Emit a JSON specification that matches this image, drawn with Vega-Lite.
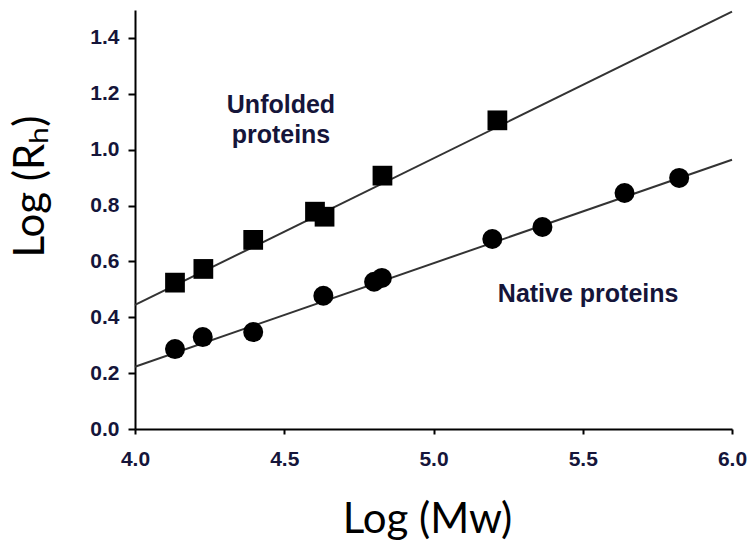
{
  "$schema": "https://vega.github.io/schema/vega-lite/v6.json",
  "width": 597,
  "height": 419,
  "autosize": {"type": "none"},
  "padding": {"left": 135, "top": 10, "right": 19, "bottom": 116},
  "background": "white",
  "config": {
    "view": {"stroke": null},
    "axis": {
      "grid": false,
      "domainColor": "#000000",
      "domainWidth": 2,
      "tickColor": "#000000",
      "tickWidth": 2,
      "labelFont": "Liberation Sans",
      "labelFontWeight": "bold",
      "labelFontSize": 21,
      "labelColor": "#15153a",
      "titleFont": "Lato",
      "titleFontWeight": "normal",
      "titleFontSize": 42,
      "titleColor": "#000000"
    }
  },
  "encoding": {
    "x": {
      "field": "logMw", "type": "quantitative",
      "scale": {"domain": [4, 6], "nice": false, "zero": false},
      "axis": {
        "title": "Log (Mw)",
        "titleX": 292,
        "titleY": 103,
        "titleBaseline": "alphabetic",
        "values": [4.0, 4.5, 5.0, 5.5, 6.0],
        "format": ".1f",
        "labelFlush": false,
        "labelOverlap": false,
        "tickSize": 5,
        "labelBaseline": "alphabetic",
        "labelPadding": 31
      }
    },
    "y": {
      "field": "logRh", "type": "quantitative",
      "scale": {"domain": [0, 1.5], "nice": false},
      "axis": {
        "title": "Log (Rₕ)",
        "titleX": -92,
        "titleY": 176,
        "titleBaseline": "alphabetic",
        "values": [0, 0.2, 0.4, 0.6, 0.8, 1.0, 1.2, 1.4],
        "format": ".1f",
        "tickSize": 7,
        "labelPadding": 9,
        "labelFlush": false
      }
    }
  },
  "layer": [
    {
      "data": {"values": [
        {"logMw": 4.1}, {"logMw": 4.2}, {"logMw": 4.3}, {"logMw": 4.4},
        {"logMw": 4.6}, {"logMw": 4.7}, {"logMw": 4.8}, {"logMw": 4.9},
        {"logMw": 5.1}, {"logMw": 5.2}, {"logMw": 5.3}, {"logMw": 5.4},
        {"logMw": 5.6}, {"logMw": 5.7}, {"logMw": 5.8}, {"logMw": 5.9}
      ]},
      "mark": {"type": "rule", "color": "#000000", "strokeWidth": 2},
      "encoding": {
        "y": {"datum": 0, "type": "quantitative"},
        "y2": {"datum": -0.017}
      }
    },
    {
      "data": {"values": [
        {"series": "Unfolded", "logMw": 4.0, "logRh": 0.444},
        {"series": "Unfolded", "logMw": 6.0, "logRh": 1.494},
        {"series": "Native", "logMw": 4.0, "logRh": 0.223},
        {"series": "Native", "logMw": 6.0, "logRh": 0.964}
      ]},
      "mark": {"type": "line", "color": "#333333", "strokeWidth": 2},
      "encoding": {
        "detail": {"field": "series"}
      }
    },
    {
      "data": {"values": [
        {"logMw": 4.134, "logRh": 0.524},
        {"logMw": 4.229, "logRh": 0.573},
        {"logMw": 4.396, "logRh": 0.677},
        {"logMw": 4.603, "logRh": 0.778},
        {"logMw": 4.635, "logRh": 0.760},
        {"logMw": 4.829, "logRh": 0.907},
        {"logMw": 5.214, "logRh": 1.105}
      ]},
      "mark": {"type": "point", "shape": "square", "filled": true, "color": "#000000", "opacity": 1, "size": 390}
    },
    {
      "data": {"values": [
        {"logMw": 4.134, "logRh": 0.286},
        {"logMw": 4.227, "logRh": 0.329},
        {"logMw": 4.396, "logRh": 0.347},
        {"logMw": 4.631, "logRh": 0.477},
        {"logMw": 4.801, "logRh": 0.527},
        {"logMw": 4.827, "logRh": 0.541},
        {"logMw": 5.197, "logRh": 0.680},
        {"logMw": 5.365, "logRh": 0.723},
        {"logMw": 5.640, "logRh": 0.845},
        {"logMw": 5.823, "logRh": 0.899}
      ]},
      "mark": {"type": "point", "shape": "circle", "filled": true, "color": "#000000", "opacity": 1, "size": 400}
    },
    {
      "data": {"values": [
        {"label": "Unfolded", "logMw": 4.489, "logRh": 1.133},
        {"label": "proteins", "logMw": 4.489, "logRh": 1.025},
        {"label": "Native proteins", "logMw": 5.518, "logRh": 0.455}
      ]},
      "mark": {"type": "text", "font": "Liberation Sans", "fontWeight": "bold", "fontSize": 25, "color": "#15153a", "align": "center", "baseline": "alphabetic"},
      "encoding": {
        "text": {"field": "label"}
      }
    }
  ]
}
